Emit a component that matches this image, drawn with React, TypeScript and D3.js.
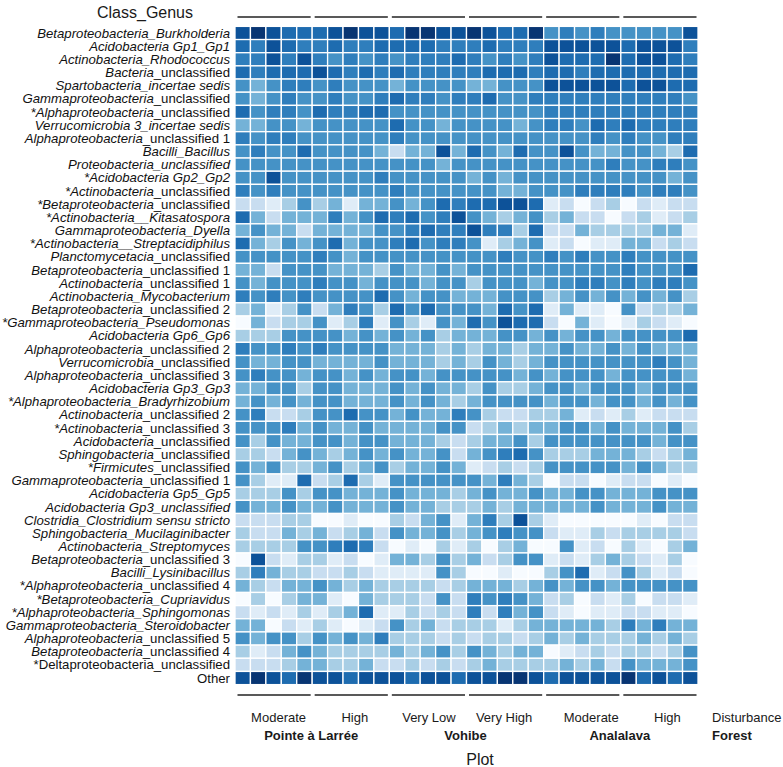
import React from 'react';
import * as d3 from 'd3';

// Row labels: [italic part, upright part]
const taxa: [string, string][] = [
  ['Betaproteobacteria_Burkholderia', ''],
  ['Acidobacteria Gp1_Gp1', ''],
  ['Actinobacteria_Rhodococcus', ''],
  ['Bacteria', '_unclassified'],
  ['Spartobacteria_incertae sedis', ''],
  ['Gammaproteobacteria', '_unclassified'],
  ['*Alphaproteobacteria', '_unclassified'],
  ['Verrucomicrobia 3_incertae sedis', ''],
  ['Alphaproteobacteria', '_unclassified 1'],
  ['Bacilli_Bacillus', ''],
  ['Proteobacteria_unclassified', ''],
  ['*Acidobacteria Gp2_Gp2', ''],
  ['*Actinobacteria', '_unclassified'],
  ['*Betaproteobacteria', '_unclassified'],
  ['*Actinobacteria__Kitasatospora', ''],
  ['Gammaproteobacteria_Dyella', ''],
  ['*Actinobacteria__Streptacidiphilus', ''],
  ['Planctomycetacia', '_unclassified'],
  ['Betaproteobacteria', '_unclassified 1'],
  ['Actinobacteria', '_unclassified 1'],
  ['Actinobacteria_Mycobacterium', ''],
  ['Betaproteobacteria', '_unclassified 2'],
  ['*Gammaproteobacteria_Pseudomonas', ''],
  ['Acidobacteria Gp6_Gp6', ''],
  ['Alphaproteobacteria', '_unclassified 2'],
  ['Verrucomicrobia', '_unclassified'],
  ['Alphaproteobacteria', '_unclassified 3'],
  ['Acidobacteria Gp3_Gp3', ''],
  ['*Alphaproteobacteria_Bradyrhizobium', ''],
  ['Actinobacteria', '_unclassified 2'],
  ['*Actinobacteria', '_unclassified 3'],
  ['Acidobacteria', '_unclassified'],
  ['Sphingobacteria', '_unclassified'],
  ['*Firmicutes', '_unclassified'],
  ['Gammaproteobacteria', '_unclassified 1'],
  ['Acidobacteria Gp5_Gp5', ''],
  ['Acidobacteria Gp3_unclassified', ''],
  ['Clostridia_Clostridium sensu stricto', ''],
  ['Sphingobacteria_Mucilaginibacter', ''],
  ['Actinobacteria_Streptomyces', ''],
  ['Betaproteobacteria', '_unclassified 3'],
  ['Bacilli_Lysinibacillus', ''],
  ['*Alphaproteobacteria', '_unclassified 4'],
  ['*Betaproteobacteria_Cupriavidus', ''],
  ['*Alphaproteobacteria_Sphingomonas', ''],
  ['Gammaproteobacteria_Steroidobacter', ''],
  ['Alphaproteobacteria', '_unclassified 5'],
  ['Betaproteobacteria', '_unclassified 4'],
  ['', '*Deltaproteobacteria_unclassified'],
  ['', 'Other'],
];

const sites = ['Pointe à Larrée', 'Vohibe', 'Analalava'];
const disturbance = ['Moderate', 'High', 'Very Low', 'Very High', 'Moderate', 'High'];
const samplesPerPlot = 5;

// Relative abundance class (0 = lowest, 9 = highest), 30 samples per taxon
const abundance: number[][] = [
  [8,9,8,7,7,7,8,9,8,8,7,9,9,8,8, 9,8,7,7,9,5,6,5,6,5,5,5,5,5,8],
  [7,6,8,7,6,6,7,6,6,7,7,7,7,6,6, 6,7,6,6,6,8,8,8,8,8,7,8,8,8,6],
  [6,6,8,6,8,6,5,6,5,6,5,6,6,6,7, 6,5,6,5,6,8,7,7,7,9,7,8,8,7,6],
  [7,6,7,7,7,8,7,6,7,6,7,6,6,6,6, 6,7,7,7,6,7,7,6,7,7,7,7,7,7,7],
  [5,4,5,6,6,5,6,5,5,5,4,5,5,5,5, 4,4,5,5,5,8,8,8,8,8,7,8,8,7,7],
  [5,4,5,6,5,5,6,5,5,6,7,6,6,5,6, 6,7,5,5,6,6,6,6,6,6,6,6,6,6,5],
  [7,5,6,6,5,7,6,6,7,7,5,5,5,5,5, 5,5,5,5,5,6,6,6,6,6,6,6,6,6,6],
  [4,4,5,5,4,5,5,5,5,5,7,5,5,4,5, 5,5,5,4,5,6,6,5,7,6,7,6,6,6,6],
  [6,5,6,6,5,5,5,5,5,5,6,5,5,5,5, 5,5,5,5,5,5,5,5,6,5,6,5,5,6,6],
  [5,6,5,5,7,5,5,5,5,4,2,4,4,8,4, 7,5,4,7,5,5,8,5,4,4,5,5,4,3,7],
  [5,5,5,5,5,5,5,5,5,5,5,5,5,4,5, 5,5,5,5,5,5,5,5,5,6,5,5,6,6,5],
  [5,5,8,5,5,5,5,5,5,6,5,5,5,5,5, 4,5,4,5,5,5,5,5,5,5,5,5,5,4,5],
  [6,5,6,5,5,5,5,5,5,5,6,5,5,5,5, 5,5,4,4,5,5,5,6,6,6,6,5,6,6,5],
  [2,2,1,3,5,3,4,1,4,4,5,4,5,7,6, 7,7,8,8,7,1,2,0,2,3,0,2,1,2,2],
  [7,4,2,4,4,4,6,4,5,7,6,7,5,6,8, 5,4,3,4,5,3,4,2,2,0,2,3,1,2,3],
  [4,5,4,4,2,4,4,4,4,5,5,6,7,6,6, 8,6,6,3,7,2,2,4,3,3,3,3,4,4,1],
  [7,4,3,5,4,5,7,4,5,5,6,7,5,6,6, 5,1,3,4,5,1,2,0,1,1,4,4,2,3,2],
  [5,5,5,5,5,6,5,4,5,5,5,5,5,5,5, 5,5,6,5,5,6,5,6,5,5,6,5,5,5,5],
  [4,4,2,5,5,5,4,4,4,3,5,4,4,5,4, 5,5,5,5,5,5,5,5,5,5,6,5,5,5,7],
  [5,4,5,5,5,6,5,5,4,5,5,5,4,5,5, 3,5,5,5,4,5,5,6,6,5,6,5,6,6,5],
  [6,5,6,5,6,5,5,5,5,7,5,4,5,5,4, 4,4,5,5,5,3,4,5,4,5,4,5,4,5,3],
  [3,4,1,3,5,2,4,6,5,3,7,5,7,5,5, 5,4,7,5,7,1,4,1,1,0,5,2,3,3,4],
  [0,4,2,3,3,5,1,3,6,1,5,3,1,5,4, 7,5,8,7,7,2,0,4,1,0,1,3,2,1,0],
  [3,3,3,5,5,5,5,4,5,4,5,4,5,3,4, 4,4,5,5,4,5,4,5,5,4,5,5,5,5,7],
  [6,5,5,6,5,6,5,5,5,5,4,4,4,3,4, 3,4,4,3,4,4,5,4,4,5,4,5,4,4,4],
  [5,4,4,5,5,4,4,4,4,5,4,4,4,3,4, 3,5,4,3,4,5,5,5,5,5,5,5,6,5,4],
  [5,6,5,5,4,5,5,4,5,4,5,5,4,5,5, 5,5,5,4,5,4,5,5,5,4,5,5,5,5,4],
  [4,4,5,5,3,5,5,4,4,4,5,4,5,4,4, 3,5,3,3,4,5,5,4,5,5,5,4,5,5,5],
  [4,5,4,5,4,5,5,4,4,4,5,4,5,4,3, 4,5,5,5,5,4,5,5,4,5,5,4,5,4,5],
  [5,6,2,2,3,5,5,7,5,5,4,5,4,4,6, 5,3,2,2,3,3,4,1,2,1,3,1,2,2,2],
  [5,5,5,6,4,5,4,4,5,4,4,4,4,5,5, 2,3,4,3,4,4,5,5,4,5,4,4,4,5,3],
  [5,3,5,4,4,5,5,4,5,5,4,4,4,3,2, 3,4,4,5,3,5,5,5,5,5,5,5,4,5,5],
  [3,3,2,4,5,4,3,4,5,4,5,4,4,5,2, 4,5,6,7,5,3,3,3,4,4,4,3,2,3,4],
  [5,4,5,3,3,4,5,3,4,5,3,4,4,5,4, 1,2,3,2,3,5,5,5,5,5,4,5,4,3,3],
  [5,3,1,1,7,2,3,7,3,1,5,5,5,5,5, 5,4,6,4,3,0,2,2,0,1,2,2,0,1,0],
  [3,3,3,5,3,5,5,4,4,4,5,4,4,4,3, 4,5,4,4,5,4,4,5,5,4,4,4,5,5,5],
  [5,4,4,5,4,4,5,4,4,4,5,4,4,3,3, 3,4,3,4,4,4,4,4,5,4,4,4,5,4,4],
  [2,2,2,3,3,0,0,1,0,0,3,2,4,5,1, 4,6,3,8,3,1,0,0,0,0,0,1,0,2,2],
  [3,2,2,4,3,4,2,3,4,2,5,4,4,5,3, 4,5,6,5,5,2,1,1,3,2,3,3,3,3,2],
  [3,3,3,3,5,5,6,7,6,2,0,1,0,3,1, 3,0,3,4,0,0,5,1,2,0,3,1,0,3,4],
  [0,8,2,1,3,3,1,2,0,1,4,4,3,5,3, 4,2,3,5,5,1,2,1,3,4,3,2,1,3,0],
  [3,6,4,3,3,2,2,3,2,1,1,1,1,5,3, 0,0,1,0,0,3,5,7,1,2,5,3,1,2,0],
  [4,3,2,4,4,5,4,3,4,3,3,3,3,2,3, 4,4,4,3,4,5,4,5,5,4,5,5,5,5,5],
  [0,3,0,3,4,4,1,0,4,3,3,3,2,5,2, 6,5,6,5,4,2,3,0,2,1,3,0,2,2,1],
  [2,1,2,1,3,1,3,4,7,1,1,3,2,3,2, 6,2,6,4,5,2,1,0,1,1,2,2,1,1,0],
  [4,4,0,2,1,3,1,0,1,2,5,3,4,2,3, 3,3,1,3,4,4,4,4,4,3,6,4,6,4,4],
  [5,4,5,5,3,5,4,5,4,6,3,3,3,2,3, 2,3,3,2,3,4,3,4,3,3,3,4,3,4,3],
  [3,1,2,4,5,4,3,3,3,3,4,3,4,5,3, 5,4,3,4,4,0,1,2,3,2,3,3,2,3,5],
  [2,2,2,3,4,4,3,3,4,2,2,3,2,3,2, 3,4,3,3,3,3,4,3,4,2,5,4,4,4,5],
  [8,9,8,7,9,8,8,7,8,8,8,7,8,8,7, 8,8,9,9,8,7,8,8,8,8,9,7,8,7,8],
];

const W = 783, H = 767;
const gridLeft = 235, gridRight = 698, gridTop = 26.4, gridBottom = 684.6;
const FONT = 'Liberation Sans, Arial, Helvetica, sans-serif';
// horizontal nudge of each disturbance label from its plot centre
const labelNudge = [5, 4, 1, -1, 9, 8];

export default function App() {
  const nCols = abundance[0].length;
  const sampleIds = d3.range(nCols).map(String);
  const rowIds = taxa.map((_, i) => String(i));

  const x = d3.scaleBand<string>().domain(sampleIds).range([gridLeft, gridRight]).padding(0);
  const y = d3.scaleBand<string>().domain(rowIds).range([gridTop, gridBottom]).padding(0);

  const tScale = d3.scaleLinear<number>()
    .domain([0, 1, 2, 3, 4, 5, 6, 7, 8, 9])
    .range([0.0, 0.12, 0.23, 0.34, 0.48, 0.62, 0.7, 0.77, 0.87, 0.98]);
  const color = (v: number) => d3.interpolateBlues(tScale(v));

  const plotIdx = d3.range(disturbance.length);
  const plotStart = (g: number) => x(String(g * samplesPerPlot))!;
  const plotEnd = (g: number) => x(String(g * samplesPerPlot + samplesPerPlot - 1))! + x.bandwidth();

  return (
    <svg width={W} height={H} style={{ position: 'absolute', left: 0, top: 0, background: '#fff' }} fontFamily={FONT}>
      <rect x={0} y={0} width={W} height={H} fill="#fff" />
      <text x={145} y={18} fontSize={16} textAnchor="middle" fill="#1a1a1a">Class_Genus</text>

      {plotIdx.map(g => (
        <g key={'pl' + g}>
          <line x1={plotStart(g) + 2.5} x2={plotEnd(g) - 1.5} y1={17} y2={17} stroke="#222" strokeWidth={1.5} />
          <line x1={plotStart(g) + 2.5} x2={plotEnd(g) - 1.5} y1={695} y2={695} stroke="#222" strokeWidth={1.5} />
        </g>
      ))}

      <g>
        {abundance.map((row, i) =>
          row.map((v, j) => (
            <rect key={i + '-' + j}
              x={x(String(j))} y={y(String(i))}
              width={x.bandwidth()} height={y.bandwidth()}
              fill={color(v)} stroke="#fff" strokeWidth={1.3} />
          ))
        )}
      </g>

      <g>
        {taxa.map(([it, up], i) => (
          <text key={'lab' + i} x={230} y={y(String(i))! + y.bandwidth() / 2} dy="0.35em"
            fontSize={13.2} textAnchor="end" fill="#111">
            {it && <tspan fontStyle="italic">{it}</tspan>}
            {up && <tspan>{up}</tspan>}
          </text>
        ))}
      </g>

      {plotIdx.map(g => (
        <text key={'dl' + g} x={(plotStart(g) + plotEnd(g)) / 2 + labelNudge[g]} y={722} fontSize={13}
          textAnchor="middle" fill="#1a1a1a">{disturbance[g]}</text>
      ))}
      {sites.map((s, k) => (
        <text key={'site' + k} x={(plotStart(k * 2) + plotEnd(k * 2 + 1)) / 2 - 1} y={740} fontSize={13}
          fontWeight="bold" textAnchor="middle" fill="#1a1a1a">{s}</text>
      ))}
      <text x={712} y={722} fontSize={13} fill="#1a1a1a">Disturbance</text>
      <text x={712} y={740} fontSize={13} fontWeight="bold" fill="#1a1a1a">Forest</text>
      <text x={480} y={765} fontSize={16} textAnchor="middle" fill="#1a1a1a">Plot</text>
    </svg>
  );
}
